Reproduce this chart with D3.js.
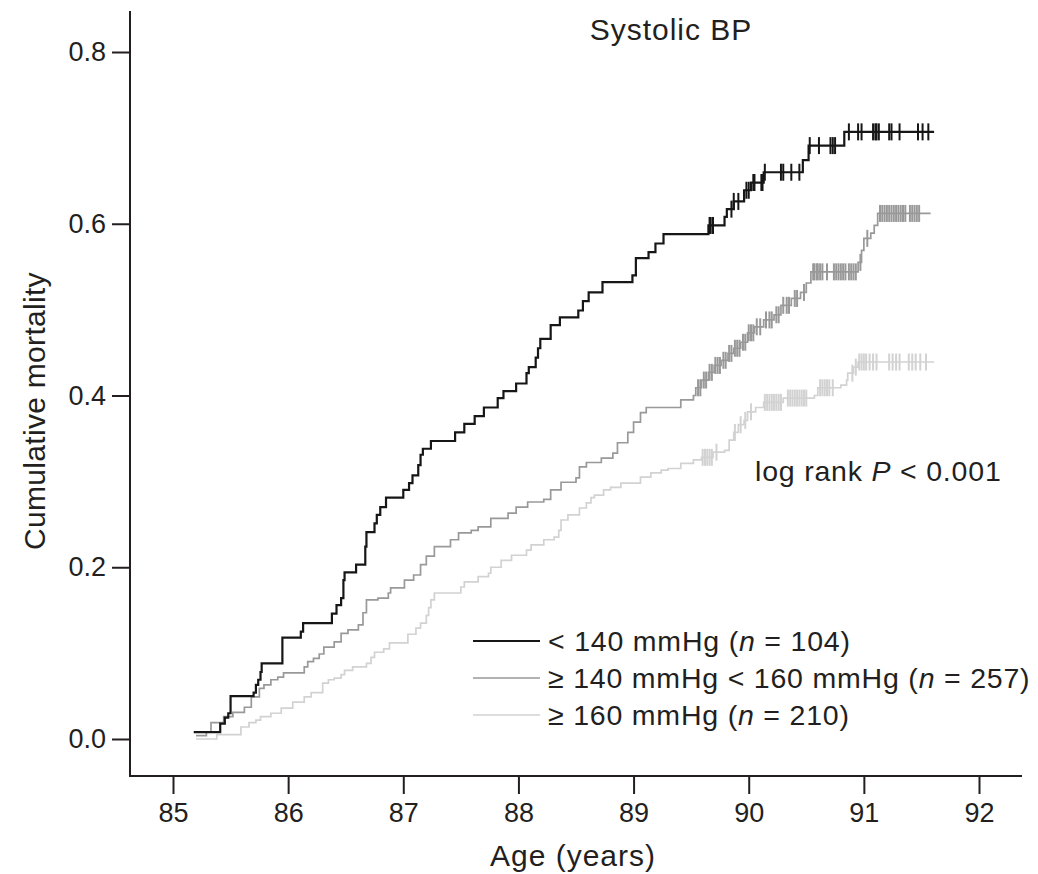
<!DOCTYPE html>
<html>
<head>
<meta charset="utf-8">
<script src="https://cdn.jsdelivr.net/npm/d3@7"></script>
<style>
  html, body { margin: 0; padding: 0; background: #fff; }
  svg { display: block; }
  text { font-family: "Liberation Sans", Arial, Helvetica, sans-serif; fill: #231f20; }
</style>
</head>
<body>
<svg id="chart" width="1038" height="874"></svg>
<script>
// Kaplan-Meier cumulative mortality by systolic blood pressure group.
// Each step is [age at event (years), cumulative mortality after the event].
const ageTicks = [85, 86, 87, 88, 89, 90, 91, 92];
const mortalityTicks = [0, 0.2, 0.4, 0.6, 0.8];

const groupLabels = [
  ["< 140 mmHg (", "n", " = 104)"],
  ["\u2265 140 mmHg < 160 mmHg (", "n", " = 257)"],
  ["\u2265 160 mmHg (", "n", " = 210)"]
];
const groupColors = ["#161616", "#999999", "#d2d2d2"];
const groupWidths = [2.2, 1.7, 1.7];

const stepsLow = [
  [85.18,0.008],[85.41,0.018],[85.45,0.025],[85.48,0.030],[85.50,0.050],[85.70,0.054],
  [85.72,0.063],[85.74,0.069],[85.76,0.078],[85.77,0.088],[85.95,0.118],[86.11,0.125],
  [86.13,0.135],[86.38,0.146],[86.42,0.156],[86.46,0.164],[86.48,0.185],[86.49,0.194],
  [86.59,0.203],[86.67,0.224],[86.68,0.241],[86.75,0.251],[86.77,0.261],[86.80,0.270],
  [86.85,0.281],[87.00,0.290],[87.05,0.298],[87.08,0.307],[87.13,0.319],[87.15,0.331],
  [87.17,0.338],[87.24,0.347],[87.45,0.357],[87.53,0.367],[87.62,0.376],[87.70,0.386],
  [87.82,0.397],[87.87,0.405],[87.98,0.414],[88.07,0.426],[88.09,0.433],[88.15,0.444],
  [88.17,0.455],[88.19,0.466],[88.28,0.482],[88.36,0.491],[88.52,0.499],[88.56,0.510],
  [88.61,0.520],[88.73,0.532],[88.99,0.540],[89.02,0.560],[89.13,0.567],[89.19,0.577],
  [89.26,0.588],[89.65,0.598],[89.79,0.608],[89.81,0.617],[89.87,0.626],[89.96,0.639],
  [90.02,0.648],[90.13,0.660],[90.47,0.674],[90.52,0.691],[90.83,0.707]
];
const endLow = 91.61;
const censorLow = [
  89.66,89.67,89.69,89.85,89.87,89.91,89.98,90.00,90.04,90.05,90.11,90.12,90.14,
  90.28,90.30,90.37,90.44,90.53,90.61,90.71,90.73,90.75,90.87,90.95,90.98,91.08,
  91.10,91.11,91.13,91.22,91.24,91.31,91.47,91.51,91.56
];

const stepsMid = [
  [85.20,0.004],[85.29,0.008],[85.33,0.019],[85.44,0.026],[85.52,0.031],[85.62,0.037],
  [85.68,0.049],[85.75,0.059],[85.79,0.063],[85.85,0.069],[85.91,0.072],[85.96,0.077],
  [86.14,0.084],[86.17,0.090],[86.22,0.094],[86.27,0.099],[86.31,0.107],[86.40,0.113],
  [86.46,0.123],[86.52,0.127],[86.61,0.133],[86.65,0.147],[86.68,0.162],[86.78,0.164],
  [86.87,0.170],[86.89,0.176],[87.01,0.185],[87.09,0.191],[87.15,0.203],[87.20,0.213],
  [87.27,0.224],[87.41,0.232],[87.48,0.240],[87.59,0.243],[87.65,0.247],[87.76,0.257],
  [87.91,0.263],[87.98,0.270],[88.08,0.276],[88.22,0.279],[88.28,0.290],[88.37,0.299],
  [88.50,0.304],[88.53,0.317],[88.59,0.322],[88.72,0.327],[88.82,0.333],[88.86,0.345],
  [88.95,0.357],[89.00,0.369],[89.06,0.380],[89.11,0.386],[89.41,0.395],[89.52,0.400],
  [89.54,0.409],[89.59,0.418],[89.65,0.427],[89.70,0.435],[89.76,0.441],[89.82,0.449],
  [89.87,0.455],[89.93,0.462],[89.99,0.473],[90.05,0.480],[90.13,0.488],[90.22,0.494],
  [90.28,0.505],[90.37,0.513],[90.45,0.520],[90.50,0.531],[90.54,0.544],[90.95,0.555],
  [90.98,0.569],[91.00,0.583],[91.06,0.589],[91.09,0.598],[91.12,0.612]
];
const endMid = 91.58;
const censorMid = [
  89.56,89.58,89.61,89.63,89.66,89.68,89.71,89.73,89.75,89.78,89.80,89.83,89.85,
  89.88,89.90,89.92,89.95,89.97,90.00,90.02,90.04,90.07,90.10,90.15,90.18,90.20,
  90.24,90.26,90.30,90.33,90.35,90.40,90.42,90.48,90.56,90.57,90.59,90.60,90.62,
  90.64,90.68,90.74,90.76,90.78,90.80,90.82,90.84,90.87,90.89,90.91,90.93,90.97,
  91.03,91.14,91.16,91.18,91.20,91.22,91.24,91.26,91.28,91.30,91.32,91.34,91.36,
  91.40,91.42,91.44,91.46,91.48
];

const stepsHigh = [
  [85.20,0.000],[85.38,0.005],[85.59,0.014],[85.66,0.019],[85.72,0.022],[85.76,0.026],
  [85.85,0.030],[85.94,0.036],[86.04,0.043],[86.14,0.049],[86.20,0.054],[86.30,0.065],
  [86.35,0.069],[86.40,0.071],[86.46,0.075],[86.49,0.080],[86.56,0.084],[86.68,0.088],
  [86.72,0.095],[86.75,0.101],[86.83,0.105],[86.88,0.112],[87.04,0.122],[87.11,0.129],
  [87.15,0.135],[87.20,0.144],[87.22,0.153],[87.24,0.162],[87.27,0.170],[87.50,0.177],
  [87.53,0.183],[87.65,0.189],[87.74,0.193],[87.76,0.200],[87.85,0.208],[87.94,0.214],
  [88.07,0.220],[88.11,0.226],[88.22,0.232],[88.31,0.235],[88.35,0.243],[88.37,0.255],
  [88.43,0.261],[88.53,0.269],[88.59,0.275],[88.63,0.281],[88.66,0.284],[88.74,0.290],
  [88.80,0.293],[88.89,0.298],[89.06,0.305],[89.15,0.310],[89.24,0.313],[89.30,0.315],
  [89.41,0.321],[89.52,0.325],[89.59,0.328],[89.69,0.334],[89.79,0.336],[89.83,0.348],
  [89.87,0.357],[89.91,0.366],[89.96,0.371],[89.99,0.381],[90.06,0.386],[90.13,0.392],
  [90.30,0.397],[90.57,0.400],[90.60,0.409],[90.80,0.412],[90.85,0.418],[90.86,0.426],
  [90.91,0.433],[90.95,0.439]
];
const endHigh = 91.61;
const censorHigh = [
  89.60,89.62,89.64,89.66,89.68,89.72,89.88,89.93,89.97,90.02,90.14,90.16,90.18,
  90.20,90.22,90.24,90.26,90.28,90.34,90.36,90.38,90.40,90.42,90.44,90.46,90.48,
  90.50,90.62,90.64,90.66,90.68,90.70,90.73,90.90,90.93,90.96,90.98,91.00,91.02,
  91.05,91.08,91.11,91.22,91.25,91.28,91.31,91.39,91.42,91.45,91.49,91.54
];

const series = [
  { steps: stepsLow,  end: endLow,  censor: censorLow },
  { steps: stepsMid,  end: endMid,  censor: censorMid },
  { steps: stepsHigh, end: endHigh, censor: censorHigh }
];

// ---- layout ----
const svg = d3.select("#chart");
const axisX = 130;          // left axis line position
const axisY = 776;          // bottom axis line position
const plotRight = 1022;
const plotTop = 11;

const x = d3.scaleLinear().domain([85, 92]).range([173, 979]);
const y = d3.scaleLinear().domain([0, 0.8]).range([739, 52]);

const FONT = 27;

// ---- axes ----
const yAxis = d3.axisLeft(y).tickValues(mortalityTicks).tickSize(18).tickPadding(6)
  .tickFormat(d3.format(".1f"));
const gy = svg.append("g").attr("transform", `translate(${axisX},0)`).call(yAxis);
gy.select(".domain").remove();
gy.selectAll(".tick line").attr("stroke", "#231f20").attr("stroke-width", 2);
gy.selectAll(".tick text").style("font-size", FONT + "px").attr("fill", "#231f20");

const xAxis = d3.axisBottom(x).tickValues(ageTicks).tickSize(18).tickPadding(9)
  .tickFormat(d3.format("d"));
const gx = svg.append("g").attr("transform", `translate(0,${axisY})`).call(xAxis);
gx.select(".domain").remove();
gx.selectAll(".tick line").attr("stroke", "#231f20").attr("stroke-width", 2);
gx.selectAll(".tick text").style("font-size", FONT + "px").attr("fill", "#231f20");

svg.append("line").attr("x1", axisX).attr("x2", axisX).attr("y1", plotTop).attr("y2", axisY + 1)
  .attr("stroke", "#231f20").attr("stroke-width", 2);
svg.append("line").attr("x1", axisX - 1).attr("x2", plotRight).attr("y1", axisY).attr("y2", axisY)
  .attr("stroke", "#231f20").attr("stroke-width", 2);

// axis titles
svg.append("text").attr("x", 573).attr("y", 866).attr("text-anchor", "middle")
  .style("font-size", "30px").style("letter-spacing", "1px").text("Age (years)");
svg.append("text").attr("transform", "translate(45,411) rotate(-90)").attr("text-anchor", "middle")
  .style("font-size", "30px").style("letter-spacing", "0.3px").text("Cumulative mortality");

svg.append("text").attr("x", 671).attr("y", 40).attr("text-anchor", "middle")
  .style("font-size", "30px").style("letter-spacing", "1px").text("Systolic BP");

const pText = svg.append("text").attr("x", 755).attr("y", 481)
  .style("font-size", "28.5px").style("letter-spacing", "0.8px");
pText.append("tspan").text("log rank ");
pText.append("tspan").style("font-style", "italic").text("P");
pText.append("tspan").text(" < 0.001");

// ---- survival curves ----
const stepLine = d3.line().x(d => x(d[0])).y(d => y(d[1])).curve(d3.curveStepAfter);
const valueAt = (steps, age) => {
  let v = steps[0][1];
  for (const s of steps) { if (s[0] <= age) v = s[1]; else break; }
  return v;
};

const order = [2, 1, 0];
order.forEach(i => {
  const s = series[i];
  const pts = s.steps.concat([[s.end, s.steps[s.steps.length - 1][1]]]);
  const g = svg.append("g");
  g.append("path").attr("d", stepLine(pts)).attr("fill", "none")
    .attr("stroke", groupColors[i]).attr("stroke-width", groupWidths[i]);
  g.selectAll("line.censor").data(s.censor).join("line").attr("class", "censor")
    .attr("x1", d => x(d)).attr("x2", d => x(d))
    .attr("y1", d => y(valueAt(s.steps, d)) - 8.5)
    .attr("y2", d => y(valueAt(s.steps, d)) + 8.5)
    .attr("stroke", groupColors[i]).attr("stroke-width", 2);
});

// ---- legend ----
const legend = svg.append("g");
groupLabels.forEach((lab, i) => {
  const cy = 641 + i * 37;
  legend.append("line").attr("x1", 473).attr("x2", 540).attr("y1", cy).attr("y2", cy)
    .attr("stroke", groupColors[i]).attr("stroke-width", groupWidths[i]);
  const t = legend.append("text").attr("x", 548).attr("y", cy + 10)
    .style("font-size", "28.5px").style("letter-spacing", "0.8px");
  t.append("tspan").text(lab[0]);
  t.append("tspan").style("font-style", "italic").text(lab[1]);
  t.append("tspan").text(lab[2]);
});
</script>
</body>
</html>
